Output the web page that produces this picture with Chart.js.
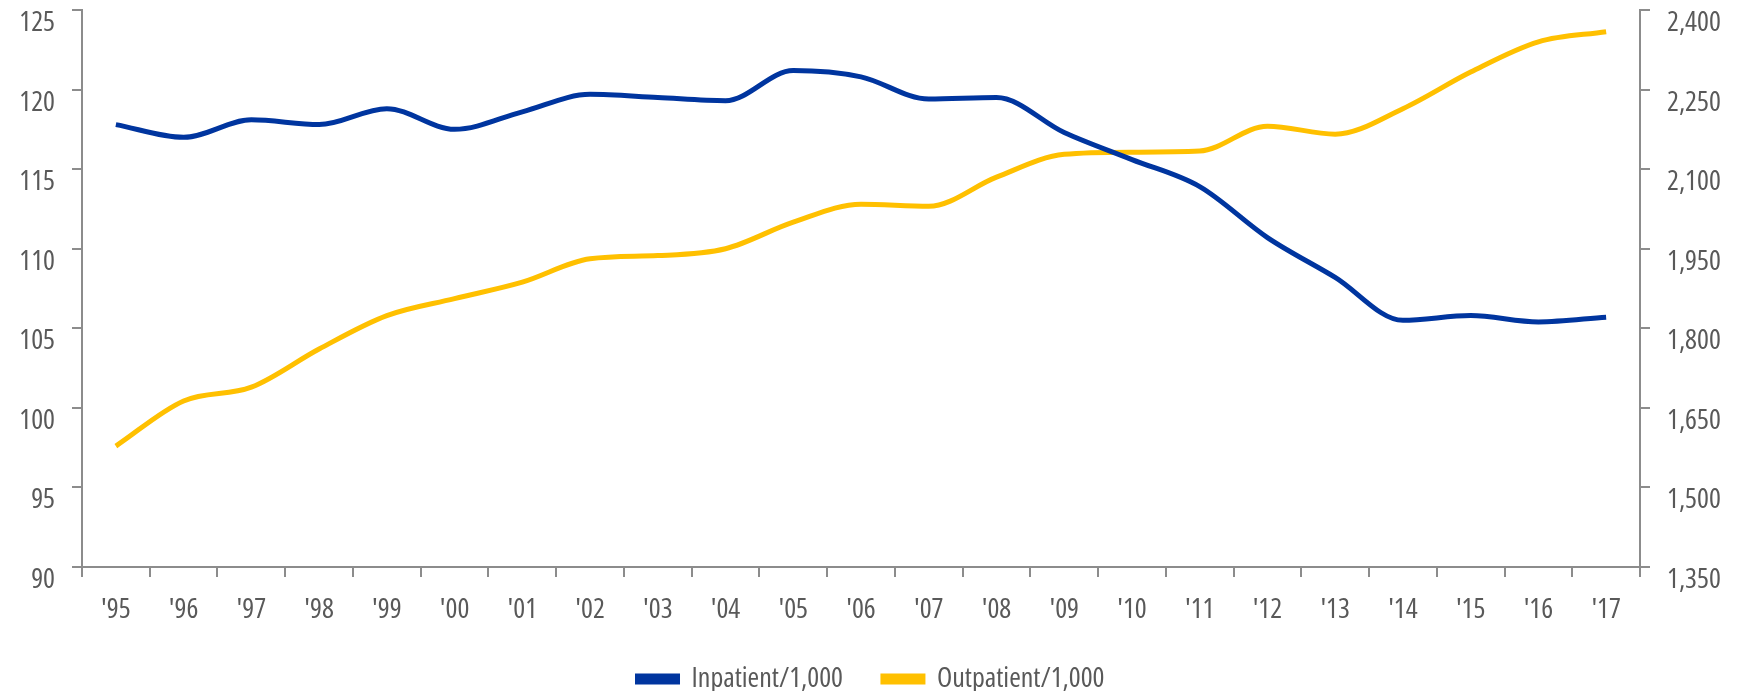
<!DOCTYPE html>
<html>
<head>
<meta charset="utf-8">
<script src="https://cdn.jsdelivr.net/npm/chart.js@4.4.0/dist/chart.umd.min.js"></script>
<style>
  html, body { margin: 0; padding: 0; background: #fff; }
  #wrap { width: 1742px; height: 691px; }
</style>
</head>
<body>
<div id="wrap"><canvas id="chart" width="1742" height="691"></canvas></div>
<script>
// years shown on the x axis
const years = ["'95", "'96", "'97", "'98", "'99", "'00", "'01", "'02", "'03", "'04", "'05", "'06",
               "'07", "'08", "'09", "'10", "'11", "'12", "'13", "'14", "'15", "'16", "'17"];

// admissions per 1,000 (left axis)
const inpatient = [117.8, 117.0, 118.1, 117.8, 118.8, 117.5, 118.6, 119.7, 119.5, 119.3, 121.2, 120.8,
                   119.4, 119.5, 117.3, 115.6, 113.9, 110.7, 108.2, 105.5, 105.8, 105.4, 105.7];

// visits per 1,000 (right axis)
const outpatient = [1578, 1663, 1689, 1761, 1824, 1856, 1887, 1931, 1937, 1950, 2000, 2034,
                    2030, 2085, 2128, 2132, 2134, 2181, 2166, 2214, 2283, 2340, 2359];

const leftRange = { min: 90, max: 125, step: 5 };
const rightRange = { min: 1350, max: 2400, step: 150 };

const TEXT = '#595959';
const AXIS = '#8c8c8c';

// Open Sans at its condensed width is the closest match to the narrow face in the original
Chart.defaults.font.family = "'Open Sans', sans-serif";
Chart.defaults.font.weight = 'condensed';
Chart.defaults.color = TEXT;

const tickFont = { size: 28 };

const axisGrid = {
    display: true,
    drawOnChartArea: false,
    drawTicks: true,
    tickLength: 10,
    color: AXIS,
    lineWidth: 2
};
const axisBorder = { display: true, color: AXIS, width: 2 };

// keep the plot area where the original has it
function fixY(width) {
    return (s) => { s.width = width; s.paddingTop = 0; s.paddingBottom = 0; };
}

new Chart(document.getElementById('chart'), {
    type: 'line',
    data: {
        labels: years,
        datasets: [
            {
                label: 'Inpatient/1,000',
                data: inpatient,
                yAxisID: 'yLeft',
                borderColor: '#00359f',
                backgroundColor: '#00359f',
                borderWidth: 5,
                pointRadius: 0,
                cubicInterpolationMode: 'monotone'
            },
            {
                label: 'Outpatient/1,000',
                data: outpatient,
                yAxisID: 'yRight',
                borderColor: '#ffc000',
                backgroundColor: '#ffc000',
                borderWidth: 5,
                pointRadius: 0,
                cubicInterpolationMode: 'monotone'
            }
        ]
    },
    options: {
        responsive: false,
        animation: false,
        layout: { padding: { left: 0, right: 0, top: 10, bottom: -12 } },
        plugins: {
            legend: {
                position: 'bottom',
                labels: {
                    font: { size: 28 },
                    color: TEXT,
                    boxWidth: 40,
                    boxHeight: 6,
                    padding: 40
                }
            },
            tooltip: { enabled: false }
        },
        scales: {
            x: {
                offset: true,
                grid: { ...axisGrid, offset: true },
                border: axisBorder,
                ticks: { font: tickFont, color: TEXT, padding: 16, maxRotation: 0, autoSkip: false },
                afterFit: (s) => { s.height = 58; s.paddingLeft = 0; s.paddingRight = 0; }
            },
            yLeft: {
                position: 'left',
                min: leftRange.min,
                max: leftRange.max,
                grid: axisGrid,
                border: axisBorder,
                ticks: { stepSize: leftRange.step, font: tickFont, color: TEXT, padding: 17, labelOffset: 13 },
                afterFit: fixY(82)
            },
            yRight: {
                position: 'right',
                min: rightRange.min,
                max: rightRange.max,
                grid: axisGrid,
                border: axisBorder,
                ticks: {
                    stepSize: rightRange.step,
                    font: tickFont,
                    color: TEXT,
                    padding: 17,
                    labelOffset: 13,
                    callback: (v) => v.toLocaleString('en-US')
                },
                afterFit: fixY(102)
            }
        }
    }
});
</script>
</body>
</html>
